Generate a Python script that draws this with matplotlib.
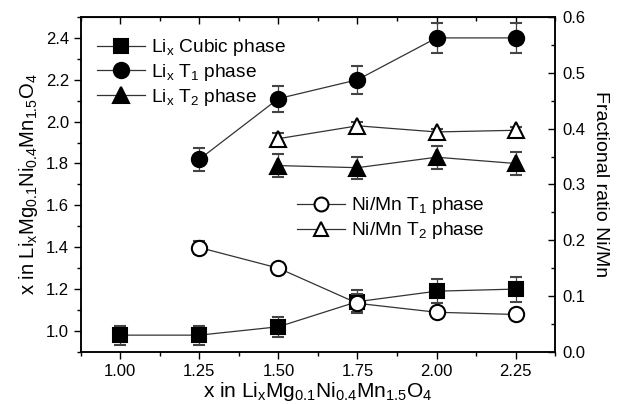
import matplotlib
matplotlib.use('Agg')
import matplotlib.pyplot as plt
from matplotlib.lines import Line2D
from matplotlib.ticker import MultipleLocator, NullFormatter

plt.rcParams['font.family'] = ['Liberation Sans', 'DejaVu Sans']
plt.rcParams['mathtext.default'] = 'regular'

# left axis: Li content per phase
x_cubic = [1.00, 1.25, 1.50, 1.75, 2.00, 2.25]
li_cubic = [0.98, 0.98, 1.02, 1.14, 1.19, 1.20]
li_cubic_err = [0.046, 0.046, 0.048, 0.054, 0.058, 0.060]

x_t1 = [1.25, 1.50, 1.75, 2.00, 2.25]
li_t1 = [1.82, 2.11, 2.20, 2.40, 2.40]
li_t1_err = [0.056, 0.062, 0.066, 0.072, 0.072]

x_t2 = [1.50, 1.75, 2.00, 2.25]
li_t2 = [1.79, 1.78, 1.83, 1.80]
li_t2_err = [0.053, 0.053, 0.055, 0.053]

# right axis: Ni/Mn fractional ratio
nimn_t1 = [0.187, 0.150, 0.087, 0.071, 0.067]
nimn_t1_err = [0.011, 0.006, 0.016, 0.006, 0.006]
nimn_t2 = [0.382, 0.405, 0.394, 0.397]
nimn_t2_err = [0.010, 0.006, 0.006, 0.006]

labels = ['Li$_x$ Cubic phase', 'Li$_x$ T$_1$ phase', 'Li$_x$ T$_2$ phase',
          'Ni/Mn T$_1$ phase', 'Ni/Mn T$_2$ phase']

fig = plt.figure(figsize=(6.21, 4.04), dpi=100)
ax = fig.add_axes([0.130, 0.129, 0.764, 0.829])
ax2 = ax.twinx()

lc = '#333333'
eb = dict(capsize=4.5, elinewidth=0.9, capthick=0.9, ecolor='#444444',
          lw=0.9, color=lc, mec='black', mew=1.5)

ax.errorbar(x_cubic, li_cubic, yerr=li_cubic_err, marker='s', ms=10, mfc='black', **eb)
ax.errorbar(x_t1, li_t1, yerr=li_t1_err, marker='o', ms=11, mfc='black', **eb)
ax.errorbar(x_t2, li_t2, yerr=li_t2_err, marker='^', ms=11, mfc='black', **eb)
ax2.errorbar(x_t1, nimn_t1, yerr=nimn_t1_err, marker='o', ms=11, mfc='white', **eb)
ax2.errorbar(x_t2, nimn_t2, yerr=nimn_t2_err, marker='^', ms=11, mfc='white', **eb)

ax.set_xlim(0.875, 2.375)
ax.set_ylim(0.9, 2.5)
ax2.set_ylim(0.0, 0.6)

ax.xaxis.set_major_locator(MultipleLocator(0.25))
ax.xaxis.set_minor_locator(MultipleLocator(0.125))
ax.yaxis.set_major_locator(MultipleLocator(0.2))
ax.yaxis.set_minor_locator(MultipleLocator(0.1))
ax2.yaxis.set_major_locator(MultipleLocator(0.1))
ax2.yaxis.set_minor_locator(MultipleLocator(0.05))
ax.xaxis.set_major_formatter(plt.FormatStrFormatter('%.2f'))
ax.yaxis.set_major_formatter(plt.FormatStrFormatter('%.1f'))
ax2.yaxis.set_major_formatter(plt.FormatStrFormatter('%.1f'))

ax.tick_params(which='both', direction='out', labelsize=12)
ax.tick_params(which='major', length=5, width=1)
ax.tick_params(which='minor', length=3, width=1)
ax2.tick_params(axis='y', which='both', direction='in', labelsize=12, pad=5)
ax2.tick_params(which='major', length=5, width=1)
ax2.tick_params(which='minor', length=3, width=1)

# inward ticks on the top spine
top = ax.secondary_xaxis('top')
top.xaxis.set_major_locator(MultipleLocator(0.25))
top.xaxis.set_minor_locator(MultipleLocator(0.125))
top.xaxis.set_major_formatter(NullFormatter())
top.tick_params(which='both', direction='in', width=1)
top.tick_params(which='major', length=5)
top.tick_params(which='minor', length=3)

for a in (ax, ax2):
    for s in a.spines.values():
        s.set_linewidth(1.1)

ax.set_xlabel('x in Li$_x$Mg$_{0.1}$Ni$_{0.4}$Mn$_{1.5}$O$_4$', fontsize=15, labelpad=1)
ax.set_ylabel('x in Li$_x$Mg$_{0.1}$Ni$_{0.4}$Mn$_{1.5}$O$_4$', fontsize=14.5, labelpad=4)
ax2.set_ylabel('Fractional ratio Ni/Mn', fontsize=14, rotation=270, labelpad=17)

def proxy(marker, fill, ms):
    return Line2D([], [], color=lc, lw=0.9, marker=marker, ms=ms,
                  mfc=fill, mec='black', mew=1.5)

leg_kw = dict(frameon=False, fontsize=13.8, handlelength=2.5, handletextpad=0.3,
              labelspacing=0.2, borderaxespad=0.0, loc='upper left')
leg1 = ax2.legend([proxy('s', 'black', 10), proxy('o', 'black', 11), proxy('^', 'black', 11)],
                  labels[:3], bbox_to_anchor=(0.018, 0.962), **leg_kw)
ax2.add_artist(leg1)
ax2.legend([proxy('o', 'white', 10), proxy('^', 'white', 10)], labels[3:],
           bbox_to_anchor=(0.44, 0.49), **leg_kw)

fig.savefig('out.png', dpi=100)
